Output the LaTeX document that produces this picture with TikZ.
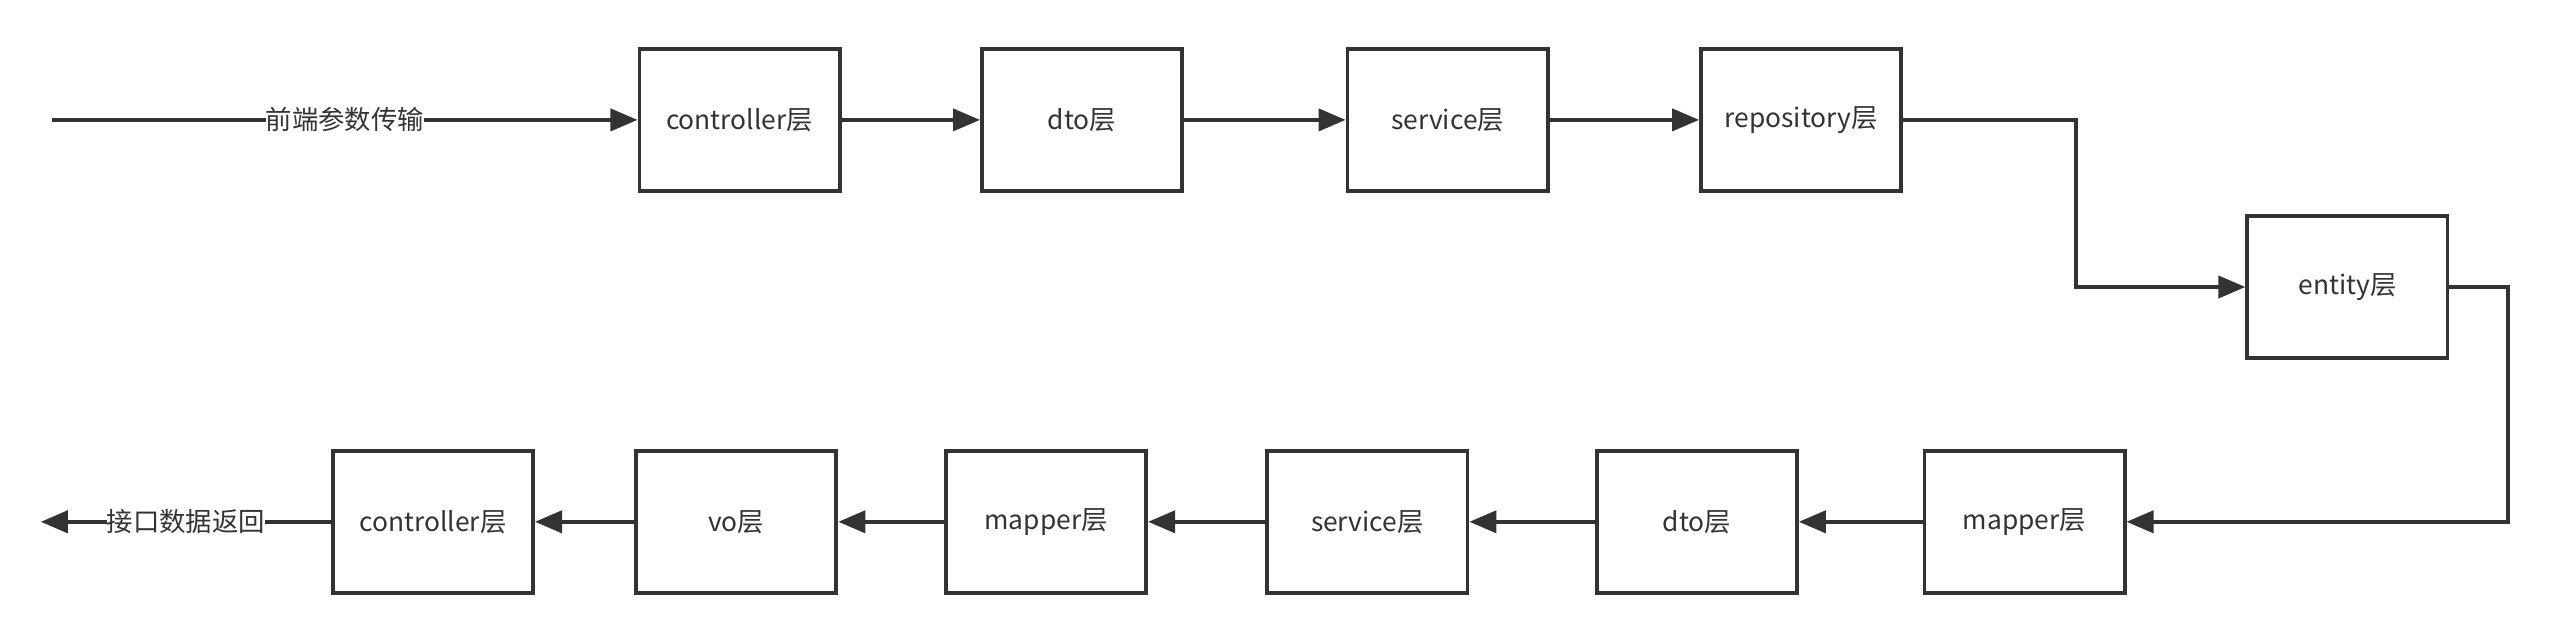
\documentclass[tikz,border=0pt]{standalone}
\usepackage{fontspec}
\setmainfont{Noto Sans CJK SC}
\usetikzlibrary{arrows.meta,positioning}
\definecolor{linegray}{HTML}{333333}

\begin{document}
\begin{tikzpicture}[x=0.01cm, y=-0.01cm,
  layer/.style={draw=linegray, line width=1.1pt, fill=white, minimum width=2cm, minimum height=1.42cm, inner sep=0pt, text=linegray, font=\fontsize{7.5}{9}\selectfont},
  flow/.style={draw=linegray, line width=1.1pt, -{Triangle[length=0.27cm, width=0.22cm]}},
  tag/.style={fill=white, inner sep=0pt, text=linegray, font=\fontsize{7.5}{9}\selectfont}]

\useasboundingbox (0,0) rectangle (2557,642);

% request path
\node[layer] (ctrlA) at (739.5,119.9) {controller层};
\node[layer] (dtoA) at (1082,119.9) {dto层};
\node[layer] (servA) at (1447.6,119.9) {service层};
\node[layer] (repo) at (1801.1,119.9) {repository层};
\node[layer] (entity) at (2347.4,287) {entity层};

% response path
\node[layer] (mapB) at (2024.5,521.8) {mapper层};
\node[layer] (dtoB) at (1696.8,521.8) {dto层};
\node[layer] (servB) at (1367.4,521.8) {service层};
\node[layer] (mapC) at (1046.1,521.8) {mapper层};
\node[layer] (vo) at (736.3,521.8) {vo层};
\node[layer] (ctrlB) at (433,521.8) {controller层};

\coordinate (src) at (52,119.9);
\coordinate (sink) at (40.8,521.8);

\draw[flow] (src) -- node[tag]{前端参数传输} (ctrlA.west);
\draw[flow] (ctrlA.east) -- (dtoA.west);
\draw[flow] (dtoA.east) -- (servA.west);
\draw[flow] (servA.east) -- (repo.west);
\draw[flow] (repo.east) -- ++(172.8,0) |- (entity.west);
\draw[flow] (entity.east) -- ++(58.7,0) |- (mapB.east);
\draw[flow] (mapB.west) -- (dtoB.east);
\draw[flow] (dtoB.west) -- (servB.east);
\draw[flow] (servB.west) -- (mapC.east);
\draw[flow] (mapC.west) -- (vo.east);
\draw[flow] (vo.west) -- (ctrlB.east);
\draw[flow] (ctrlB.west) -- node[tag]{接口数据返回} (sink);
\end{tikzpicture}
\end{document}
